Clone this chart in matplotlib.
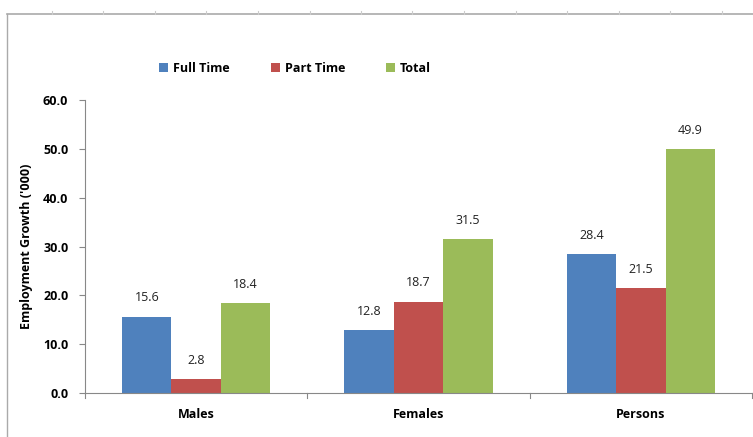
import numpy as np
import matplotlib.pyplot as plt
from matplotlib.lines import Line2D

categories = ["Males", "Females", "Persons"]
series = ["Full Time", "Part Time", "Total"]
full_time = [15.6, 12.8, 28.4]
part_time = [2.8, 18.7, 21.5]
total = [18.4, 31.5, 49.9]
colors = ["#4F81BD", "#C0504D", "#9BBB59"]
yticks = [0, 10, 20, 30, 40, 50, 60]

plt.rcParams['font.family'] = ['Open Sans', 'DejaVu Sans']

fig = plt.figure(figsize=(7.53, 4.37), dpi=100)
ax = fig.add_axes([85/753, 1-393/437, 667/753, 293/437])

x = np.arange(len(categories))
w = 0.222
for i, (vals, name) in enumerate(zip([full_time, part_time, total], series)):
    bars = ax.bar(x + (i-1)*w, vals, w, color=colors[i], label=name, linewidth=0)
    for b, v in zip(bars, vals):
        ax.annotate(f"{v:.1f}", (b.get_x()+b.get_width()/2, v), xytext=(0, 9),
                    textcoords="offset points", ha="center", va="bottom", fontsize=9, color="#222222")

ax.set_xlim(-0.5, 2.5)
ax.set_ylim(0, 60)
ax.set_yticks(yticks)
ax.set_yticklabels([f"{t:.1f}" for t in yticks], fontsize=9, fontweight="bold")
ax.set_xticks(x)
ax.set_xticklabels(categories, fontsize=9, fontweight="bold")
ax.tick_params(axis="x", length=0, pad=11)
ax.tick_params(axis="y", length=4, color="#888888", pad=8)
for s in ["top", "right"]:
    ax.spines[s].set_visible(False)
for s in ["left", "bottom"]:
    ax.spines[s].set_color("#888888")
# category separator ticks
for xb in [-0.5, 0.5, 1.5, 2.5]:
    ax.plot([xb, xb], [0, -1.0], color="#888888", lw=0.8, clip_on=False)
ax.set_ylabel("Employment Growth ('000)", fontsize=9, fontweight="bold", labelpad=7)

leg = fig.legend(loc="center left", bbox_to_anchor=(148/753, 1-68/437), ncol=3, frameon=False,
                 handlelength=0.7, handleheight=0.7, handletextpad=0.4, columnspacing=3.3,
                 prop={"size": 9, "weight": "bold"})

# outer frame lines (screenshot border)
fig.add_artist(Line2D([7/753, 1], [1-14/437, 1-14/437], color="#AAAAAA", lw=1.2))
fig.add_artist(Line2D([7/753, 7/753], [1-14/437, 0], color="#AAAAAA", lw=1.0))
for px in np.arange(52, 753, 51.5):
    fig.add_artist(Line2D([px/753, px/753], [1-11/437, 1-14/437], color="#CCCCCC", lw=0.8))

fig.savefig("out.png", dpi=100)
